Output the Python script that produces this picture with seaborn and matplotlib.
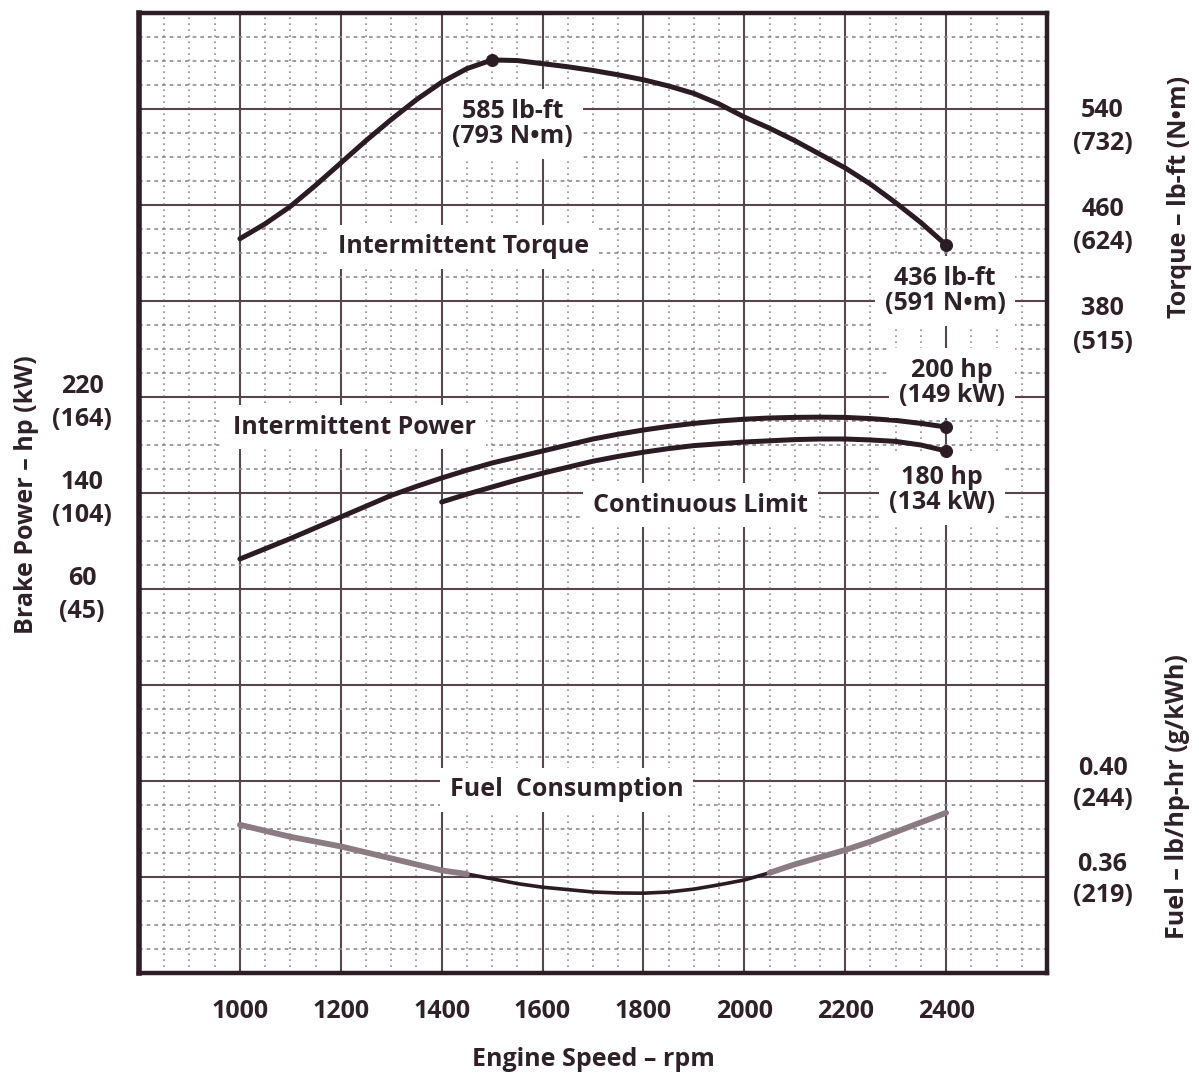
import numpy as np
import matplotlib
matplotlib.use("Agg")
import matplotlib.pyplot as plt
import matplotlib.transforms as mtrans
import seaborn as sns
from matplotlib.ticker import MultipleLocator, FixedLocator

# ---------------- data ----------------
speed_ticks = [1000, 1200, 1400, 1600, 1800, 2000, 2200, 2400]

torque_rpm = [1000, 1050, 1100, 1150, 1200, 1250, 1300, 1350, 1400, 1450,
              1500, 1550, 1600, 1650, 1700, 1750, 1800, 1850, 1900, 1950,
              2000, 2050, 2100, 2150, 2200, 2250, 2300, 2350, 2400]
torque_lbft = [441, 453, 467, 484, 502, 520, 537, 553, 567, 578,
               585, 584.5, 582, 579.5, 576.5, 573, 569, 564, 558, 549.5,
               539, 530, 520, 509, 498, 485, 470, 454, 436]
torque_mark_rpm = [1500, 2400]
torque_mark_val = [585, 436]

power_rpm = [1000, 1050, 1100, 1150, 1200, 1250, 1300, 1350, 1400, 1450,
             1500, 1550, 1600, 1650, 1700, 1750, 1800, 1850, 1900, 1950,
             2000, 2050, 2100, 2150, 2200, 2250, 2300, 2350, 2400]
power_intermittent = [90, 98.5, 107, 116, 125, 134, 143, 150.5, 157.5, 164,
                      170, 175, 180, 185, 190, 194, 197.5, 200.5, 203, 205,
                      206.5, 207.5, 208, 208.2, 208, 207, 205.5, 203, 200]
cont_rpm = [1400, 1450, 1500, 1550, 1600, 1650, 1700, 1750, 1800, 1850,
            1900, 1950, 2000, 2050, 2100, 2150, 2200, 2250, 2300, 2350, 2400]
power_continuous = [137.5, 144, 150, 156, 161.5, 166.5, 171.5, 175.5, 179,
                    182, 184.5, 186, 187.5, 188.5, 189.5, 190, 190, 189.2,
                    188, 185, 180]
power_mark_rpm = [2400, 2400]
power_mark_val = [200, 180]

fuel_rpm = [1000, 1050, 1100, 1150, 1200, 1250, 1300, 1350, 1400, 1450,
            1500, 1550, 1600, 1650, 1700, 1750, 1800, 1850, 1900, 1950,
            2000, 2050, 2100, 2150, 2200, 2250, 2300, 2350, 2400]
fuel_bsfc = [0.383, 0.3805, 0.378, 0.376, 0.374, 0.3715, 0.369, 0.3665, 0.364,
             0.3625, 0.3605, 0.3585, 0.357, 0.356, 0.355, 0.3546, 0.3545,
             0.355, 0.3562, 0.358, 0.360, 0.363, 0.3665, 0.3695, 0.3725,
             0.376, 0.380, 0.384, 0.388]

torque_ticks = [540, 460, 380]
torque_tick_labels = ["540\n(732)", "460\n(624)", "380\n(515)"]
power_ticks = [220, 140, 60]
power_tick_labels = ["220\n(164)", "140\n(104)", "60\n(45)"]
fuel_ticks = [0.40, 0.36]
fuel_tick_labels = ["0.40\n(244)", "0.36\n(219)"]

# ---------------- styling ----------------
sns.set_theme(style="white")
plt.rcParams["font.family"] = ["Open Sans", "Liberation Sans", "DejaVu Sans"]
plt.rcParams["font.weight"] = "bold"

INK = "#2e2228"
CURVE = "#2a1c22"
GRAY = "#8b7c83"
MAJOR = "#54474d"
MINOR = "#928690"
FS = 18

fig = plt.figure(figsize=(11.99, 10.74), dpi=100)
L, R, T, B = 139, 1047, 13, 973
W_, H_ = 1199, 1074
ax = fig.add_axes([L / W_, 1 - B / H_, (R - L) / W_, (B - T) / H_])

# main grid axis
ax.set_xlim(800, 2600)
ax.set_ylim(0, 40)
ax.xaxis.set_major_locator(FixedLocator(list(range(800, 2601, 200))))
ax.xaxis.set_minor_locator(MultipleLocator(50))
ax.yaxis.set_major_locator(MultipleLocator(4))
ax.yaxis.set_minor_locator(MultipleLocator(1))
ax.set_xticklabels([str(v) if v in speed_ticks else "" for v in range(800, 2601, 200)])
ax.grid(which="major", color=MAJOR, lw=1.5, ls="-")
ax.grid(which="minor", axis="x", color=MINOR, lw=1.2, ls=(0, (1.0, 2.6)))
ax.grid(which="minor", axis="y", color=MINOR, lw=1.2, ls=(0, (2.2, 2.4)))
ax.tick_params(axis="both", which="both", length=0)
ax.tick_params(axis="y", labelleft=False, labelright=False)
ax.tick_params(axis="x", labelsize=FS, pad=19, labelcolor=INK)
for lbl in ax.get_xticklabels():
    lbl.set_fontweight("bold")
for s in ax.spines.values():
    s.set_visible(True)
    s.set_linewidth(3.2)
    s.set_color("#2b1f25")
ax.spines["left"].set_linewidth(4)
ax.set_xlabel("Engine Speed – rpm", fontsize=FS, fontweight="bold", color=INK,
              labelpad=16.5)


def make_twin(ylim, ticks, labels, side, pad, spacing, shift_px=0.0):
    t = ax.twinx()
    t.set_ylim(*ylim)
    for s in t.spines.values():
        s.set_visible(False)
    t.grid(False)
    if side == "left":
        t.yaxis.tick_left()
    else:
        t.yaxis.tick_right()
    t.set_yticks(ticks)
    t.set_yticklabels(labels)
    t.tick_params(axis="y", length=0, pad=pad, labelsize=FS, labelcolor=INK)
    off = mtrans.ScaledTranslation(0, -shift_px / 100.0, fig.dpi_scale_trans)
    for lbl in t.get_yticklabels():
        lbl.set_horizontalalignment("center")
        lbl.set_verticalalignment("center")
        lbl.set_linespacing(spacing)
        lbl.set_fontweight("bold")
        if shift_px:
            lbl.set_transform(lbl.get_transform() + off)
    return t


# pixel-calibrated limits for each scale
axT = make_twin((-150.4, 622.8), torque_ticks, torque_tick_labels, "right", 40,
                1.45, shift_px=11)
axP = make_twin((-255, 545), power_ticks, power_tick_labels, "left", 41, 1.45)
axF = make_twin((0.32125, 0.72125), fuel_ticks, fuel_tick_labels, "right", 40,
                1.35)

# ---------------- curves ----------------
sns.lineplot(x=torque_rpm, y=torque_lbft, ax=axT, color=CURVE, lw=3.6,
             legend=False, sort=False)
sns.scatterplot(x=torque_mark_rpm, y=torque_mark_val, ax=axT, color=CURVE,
                s=75, edgecolor=CURVE, legend=False, zorder=5)

sns.lineplot(x=power_rpm, y=power_intermittent, ax=axP, color=CURVE, lw=3.6,
             legend=False, sort=False)
sns.lineplot(x=cont_rpm, y=power_continuous, ax=axP, color=CURVE, lw=3.6,
             legend=False, sort=False)
sns.scatterplot(x=power_mark_rpm, y=power_mark_val, ax=axP, color=CURVE,
                s=75, edgecolor=CURVE, legend=False, zorder=5)

fr = np.array(fuel_rpm)
fv = np.array(fuel_bsfc)
left_mask = fr <= 1450
mid_mask = (fr >= 1450) & (fr <= 2050)
right_mask = fr >= 2050
sns.lineplot(x=fr[mid_mask], y=fv[mid_mask], ax=axF, color=CURVE, lw=2.6,
             legend=False, sort=False)
sns.lineplot(x=fr[left_mask], y=fv[left_mask], ax=axF, color=GRAY, lw=4.2,
             legend=False, sort=False)
sns.lineplot(x=fr[right_mask], y=fv[right_mask], ax=axF, color=GRAY, lw=4.2,
             legend=False, sort=False)

for a in (axT, axP, axF):
    a.set_xlim(800, 2600)

# ---------------- annotations ----------------
box = dict(facecolor="white", edgecolor="none", pad=7)
kw = dict(ha="center", va="center", fontsize=FS, fontweight="bold", color=INK,
          linespacing=1.0, bbox=box, zorder=4)
axT.text(1541, 533.4, "585 lb-ft\n(793 N•m)", **kw)
axT.text(1443, 434.5, "Intermittent Torque", **kw)
axT.text(2398, 398.9, "436 lb-ft\n(591 N•m)", **kw)
axP.text(2412, 236.7, "200 hp\n(149 kW)", **kw)
axP.text(1227, 200, "Intermittent Power", **kw)
axP.text(2392, 147.5, "180 hp\n(134 kW)", **kw)
axP.text(1913, 135, "Continuous Limit", **kw)
axF.text(1648, 0.3975, "Fuel  Consumption", **kw)

# axis titles
fig.text(27 / W_, 1 - 495 / H_, "Brake Power – hp (kW)", rotation=90,
         ha="center", va="center", fontsize=FS, fontweight="bold", color=INK)
fig.text(1180 / W_, 1 - 197 / H_, "Torque – lb-ft (N•m)", rotation=90,
         ha="center", va="center", fontsize=FS, fontweight="bold", color=INK)
fig.text(1178 / W_, 1 - 797 / H_, "Fuel – lb/hp-hr (g/kWh)", rotation=90,
         ha="center", va="center", fontsize=FS, fontweight="bold", color=INK)

fig.savefig("out.png", dpi=100, facecolor="white")
